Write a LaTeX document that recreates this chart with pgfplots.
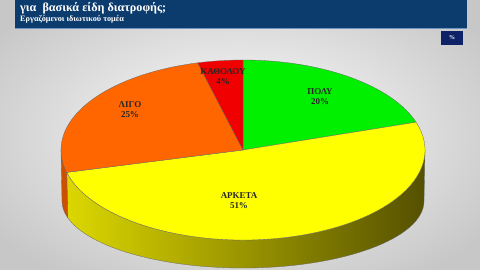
\documentclass[border=0pt]{standalone}
\usepackage{fontspec}
\setmainfont{Liberation Serif}
\usepackage{pgfplots}
\pgfplotsset{compat=1.18}
\usepackage{pgfplotstable}
\definecolor{banner}{RGB}{12,60,110}
\definecolor{pctbox}{RGB}{14,34,104}
\definecolor{cGreen}{RGB}{0,240,0}
\definecolor{cYellow}{RGB}{255,255,0}
\definecolor{cOrange}{RGB}{255,102,0}
\definecolor{cRed}{RGB}{240,0,0}
\definecolor{sideYL}{RGB}{220,215,0}
\definecolor{sideYR}{RGB}{85,80,0}
\definecolor{sideO}{RGB}{205,80,0}
\begin{document}
\begin{tikzpicture}
\pgfplotstableread{
label value
ΠΟΛΥ 20
ΑΡΚΕΤΑ 51
ΛΙΓΟ 25
ΚΑΘΟΛΟΥ 4
}\piedata
\pgfplotstablegetelem{0}{value}\of\piedata \let\vA\pgfplotsretval
\pgfplotstablegetelem{1}{value}\of\piedata \let\vB\pgfplotsretval
\pgfplotstablegetelem{2}{value}\of\piedata \let\vC\pgfplotsretval
\pgfplotstablegetelem{3}{value}\of\piedata \let\vD\pgfplotsretval
\pgfmathsetmacro\aA{90}
\pgfmathsetmacro\aB{\aA-3.6*\vA}
\pgfmathsetmacro\aC{\aB-3.6*\vB}
\pgfmathsetmacro\aD{\aC-3.6*\vC}
\pgfmathsetmacro\aE{\aD-3.6*\vD}
\pgfmathsetmacro\aCp{\aC+360}
\begin{axis}[width=480bp,height=270bp,scale only axis,
  xmin=0,xmax=480,ymin=0,ymax=270,hide axis,clip=true]
% background
\shade[inner color=white,outer color=black!22] (axis cs:-60,-40) rectangle (axis cs:540,310);
% banner
\fill[banner] (axis cs:15,242) rectangle (axis cs:467,270);
\draw[color={rgb,255:red,110;green,150;blue,195},line width=0.6bp] (axis cs:15,242) -- (axis cs:467,242);
\node[anchor=base west,text=white,font=\fontsize{12.2}{12}\bfseries\selectfont,inner sep=0pt] at (axis cs:20,258.2) {για\ \ βασικά είδη διατροφής;};
\node[anchor=base west,text=white,font=\fontsize{8.3}{8}\bfseries\selectfont,inner sep=0pt] at (axis cs:20,248.8) {Εργαζόμενοι ιδιωτικού τομέα};
% percent box
\fill[pctbox] (axis cs:440.7,225) rectangle (axis cs:463.3,239.3);
\node[text=white,font=\fontsize{6}{6}\bfseries\selectfont] at (axis cs:452,232.2) {\%};
% sides (bottom ellipse narrower in perspective)
\shade[left color=sideYL,right color=sideYR,draw=black!60,line width=0.3bp]
  ([shift={(\aCp:182bp and 90bp)}]axis cs:243,120)
  arc[start angle=\aCp,end angle=360,x radius=182bp,y radius=90bp]
  -- ([shift={(360:181bp and 67bp)}]axis cs:243,69)
  arc[start angle=360,end angle=\aCp,x radius=181bp,y radius=67bp] -- cycle;
\filldraw[fill=sideO,draw=black!60,line width=0.3bp]
  ([shift={(180:182bp and 90bp)}]axis cs:243,120)
  arc[start angle=180,end angle=\aCp,x radius=182bp,y radius=90bp]
  -- ([shift={(\aCp:181bp and 67bp)}]axis cs:243,69)
  arc[start angle=\aCp,end angle=180,x radius=181bp,y radius=67bp] -- cycle;
% tops
\filldraw[fill=cGreen,draw=black!60,line width=0.3bp] (axis cs:243,120) -- ([shift={(\aB:182bp and 90bp)}]axis cs:243,120)
  arc[start angle=\aB,end angle=\aA,x radius=182bp,y radius=90bp] -- cycle;
\filldraw[fill=cYellow,draw=black!60,line width=0.3bp] (axis cs:243,120) -- ([shift={(\aC:182bp and 90bp)}]axis cs:243,120)
  arc[start angle=\aC,end angle=\aB,x radius=182bp,y radius=90bp] -- cycle;
\filldraw[fill=cOrange,draw=black!60,line width=0.3bp] (axis cs:243,120) -- ([shift={(\aD:182bp and 90bp)}]axis cs:243,120)
  arc[start angle=\aD,end angle=\aC,x radius=182bp,y radius=90bp] -- cycle;
\filldraw[fill=cRed,draw=black!60,line width=0.3bp] (axis cs:243,120) -- ([shift={(\aE:182bp and 90bp)}]axis cs:243,120)
  arc[start angle=\aE,end angle=\aD,x radius=182bp,y radius=90bp] -- cycle;
% labels
\tikzset{lab/.style={align=center,text=black!85,font=\fontsize{9}{10}\bfseries\selectfont,inner sep=0pt}}
\node[lab] at (axis cs:320,173) {ΠΟΛΥ\\20\%};
\node[lab] at (axis cs:239,69) {ΑΡΚΕΤΑ\\51\%};
\node[lab] at (axis cs:130,160) {ΛΙΓΟ\\25\%};
\node[lab] at (axis cs:223,193) {ΚΑΘΟΛΟΥ\\4\%};
\end{axis}
\pgfresetboundingbox
\path (0,0) rectangle (480bp,270bp);
\end{tikzpicture}
\end{document}
